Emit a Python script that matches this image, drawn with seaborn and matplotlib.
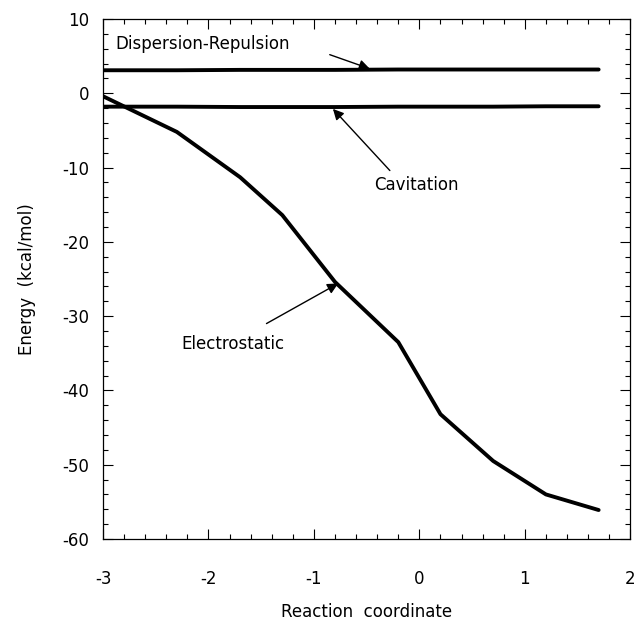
import pandas as pd
import numpy as np
import matplotlib
matplotlib.use("Agg")
import matplotlib.pyplot as plt
import seaborn as sns
from matplotlib.ticker import MultipleLocator

# values
coord = [-3.0, -2.3, -1.7, -1.3, -0.8, -0.2, 0.2, 0.7, 1.2, 1.7]
electrostatic = [-0.4, -5.2, -11.3, -16.4, -25.4, -33.5, -43.2, -49.5, -54.0, -56.1]
dispersion = [3.1, 3.1, 3.15, 3.15, 3.15, 3.2, 3.2, 3.2, 3.2, 3.2]
cavitation = [-1.8, -1.8, -1.85, -1.85, -1.85, -1.8, -1.8, -1.8, -1.75, -1.75]

df = pd.concat([
    pd.DataFrame({"x": coord, "E": electrostatic, "term": "Electrostatic"}),
    pd.DataFrame({"x": coord, "E": dispersion, "term": "Dispersion-Repulsion"}),
    pd.DataFrame({"x": coord, "E": cavitation, "term": "Cavitation"}),
])

sns.set_style("ticks", {"axes.edgecolor": "black", "text.color": "black",
                        "axes.labelcolor": "black", "xtick.color": "black",
                        "ytick.color": "black"})
plt.rcParams["font.family"] = ["DejaVu Sans"]
plt.rcParams["axes.unicode_minus"] = False

fig = plt.figure(figsize=(6.36, 6.25), dpi=100)
ax = fig.add_axes([0.162, 0.1376, 0.829, 0.832])

sns.lineplot(data=df, x="x", y="E", units="term", estimator=None,
             color="black", linewidth=2.8, ax=ax, legend=False)

ax.set_xlim(-3, 2)
ax.set_ylim(-60, 10)
ax.xaxis.set_major_locator(MultipleLocator(1))
ax.xaxis.set_minor_locator(MultipleLocator(0.2))
ax.yaxis.set_major_locator(MultipleLocator(10))
ax.yaxis.set_minor_locator(MultipleLocator(2))
ax.tick_params(which="both", direction="in", top=True, right=True,
               width=0.8, labelsize=12, colors="black")
ax.tick_params(axis="x", which="both", pad=22)
ax.tick_params(axis="y", which="both", pad=10)
ax.tick_params(which="major", length=7)
ax.tick_params(which="minor", length=3.5)
for s in ax.spines.values():
    s.set_linewidth(0.9)
    s.set_color("black")

ax.set_xlabel("Reaction  coordinate", fontsize=12, labelpad=11, color="black")
ax.set_ylabel("Energy  (kcal/mol)", fontsize=12, labelpad=19, color="black")

arrow = dict(arrowstyle="-|>", color="black", lw=1.0, mutation_scale=16,
             shrinkA=0, shrinkB=0)
ax.text(-2.88, 6.6, "Dispersion-Repulsion", fontsize=12, va="center", ha="left",
        color="black")
ax.annotate("", xy=(-0.47, 3.3), xytext=(-0.85, 5.2), arrowprops=arrow)

ax.text(-0.03, -12.4, "Cavitation", fontsize=12, va="center", ha="center",
        color="black")
ax.annotate("", xy=(-0.82, -2.1), xytext=(-0.28, -10.4), arrowprops=arrow)

ax.text(-1.77, -33.7, "Electrostatic", fontsize=12, va="center", ha="center",
        color="black")
ax.annotate("", xy=(-0.77, -25.6), xytext=(-1.45, -31.0), arrowprops=arrow)

fig.savefig("out.png", dpi=100)
